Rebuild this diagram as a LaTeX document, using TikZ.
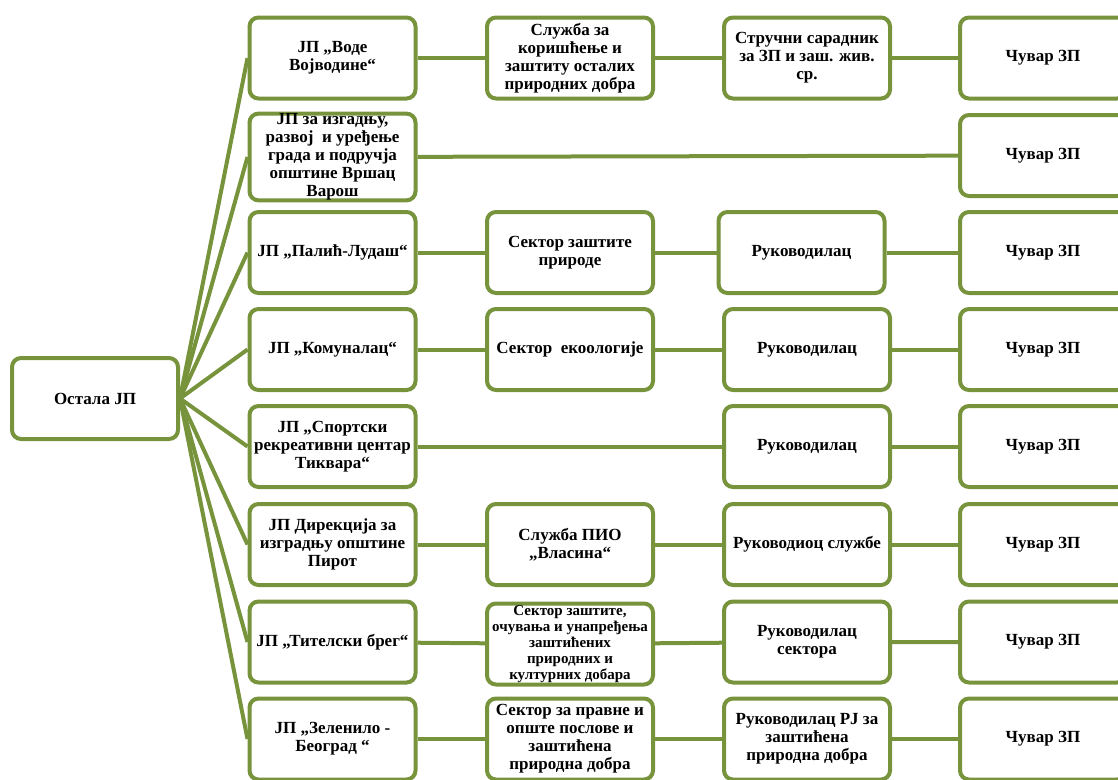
\documentclass[tikz,border=0pt]{standalone}
\usepackage{fontspec}
\setmainfont{Liberation Serif}
\definecolor{gr}{RGB}{119,147,60}
\begin{document}
\begin{tikzpicture}[x=1pt,y=-1pt,
  bx/.style={draw=gr, line width=4pt, rounded corners=9pt, fill=white,
    minimum width=166pt, minimum height=81pt, align=center, inner sep=0pt,
    font=\bfseries\fontsize{17}{18}\selectfont},
  sm/.style={font=\bfseries\fontsize{15}{16}\selectfont},
  ln/.style={draw=gr, line width=4pt}]
\useasboundingbox (0,0) rectangle (1118,779);
% root
\node[bx] (root) at (95,398.5) {Остала ЈП};
% column 1
\node[bx] (a1) at (332.5,58) {ЈП „Воде\\Војводине“};
\node[bx] (a2) at (332.5,157) {ЈП за изгадњу,\\развој\ \ и уређење\\града и подручја\\општине Вршац\\Варош};
\node[bx] (a3) at (332.5,252.5) {ЈП „Палић-Лудаш“};
\node[bx] (a4) at (332.5,349.5) {ЈП „Комуналац“};
\node[bx] (a5) at (332.5,446.5) {ЈП „Спортски\\рекреативни центар\\Тиквара“};
\node[bx] (a6) at (332.5,544.5) {ЈП Дирекција за\\изградњу општине\\Пирот};
\node[bx] (a7) at (332.5,642) {ЈП „Тителски брег“};
\node[bx] (a8) at (332.5,739) {ЈП „Зеленило -\\Београд “};
% column 2
\node[bx] (b1) at (570,58) {Служба за\\коришћење и\\заштиту осталих\\природних добра};
\node[bx] (b3) at (570,252.5) {Сектор заштите\\природе};
\node[bx] (b4) at (570,349.5) {Сектор\ \ екоологије};
\node[bx] (b6) at (570,544.5) {Служба ПИО\\„Власина“};
\node[bx,sm] (b7) at (570,644) {Сектор заштите,\\очувања и унапређења\\заштићених\\природних и\\културних добара};
\node[bx] (b8) at (570,739) {Сектор за правне и\\опште послове и\\заштићена\\природна добра};
% column 3
\node[bx] (c1) at (807,58) {Стручни сарадник\\за ЗП и заш. жив.\\ср.};
\node[bx] (c3) at (801.5,252.5) {Руководилац};
\node[bx] (c4) at (807,349.5) {Руководилац};
\node[bx] (c5) at (807,446.5) {Руководилац};
\node[bx] (c6) at (807,544.5) {Руководиоц службе};
\node[bx] (c7) at (807,642) {Руководилац\\сектора};
\node[bx] (c8) at (807,739) {Руководилац РЈ за\\заштићена\\природна добра};
% column 4
\foreach \i/\y in {1/58,2/155.5,3/252.5,4/349.5,5/446.5,6/544.5,7/642,8/739}
  \node[bx] (d\i) at (1043,\y) {Чувар ЗП};
% fan
\foreach \i in {1,...,8}
  \draw[ln] (root.east) -- (a\i.west);
% rows
\draw[ln] (a1) -- (b1) -- (c1) -- (d1);
\draw[ln] (a2) -- (d2);
\draw[ln] (a3) -- (b3) -- (c3) -- (d3);
\draw[ln] (a4) -- (b4) -- (c4) -- (d4);
\draw[ln] (a5) -- (c5) -- (d5);
\draw[ln] (a6) -- (b6) -- (c6) -- (d6);
\draw[ln] (a7) -- (b7) -- (c7) -- (d7);
\draw[ln] (a8) -- (b8) -- (c8) -- (d8);
\end{tikzpicture}
\end{document}
